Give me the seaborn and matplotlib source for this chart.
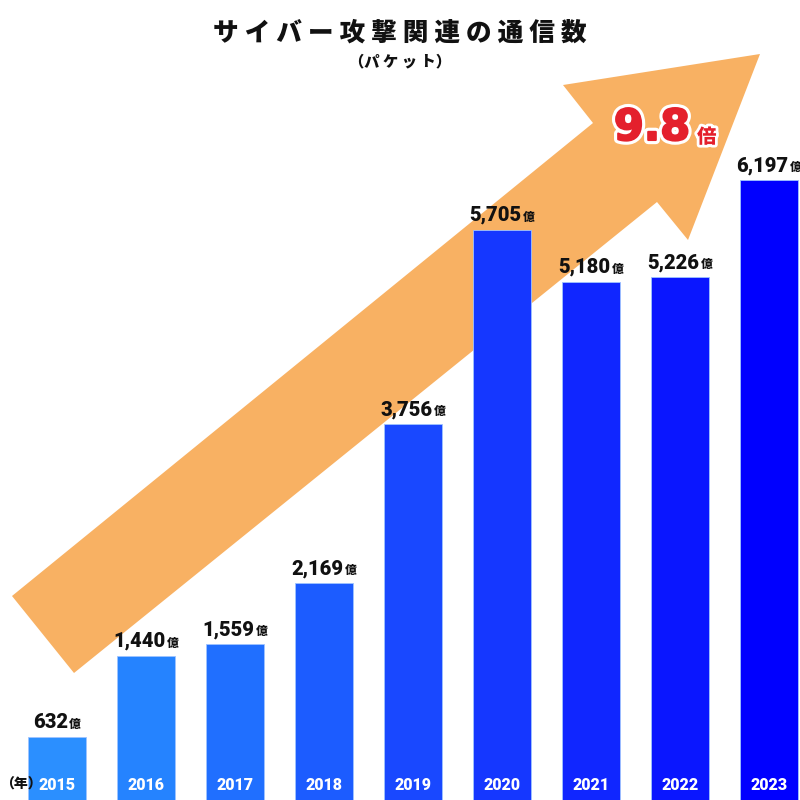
import matplotlib
matplotlib.use('Agg')
import matplotlib.pyplot as plt
import matplotlib.patheffects as pe
from matplotlib import transforms
from matplotlib.patches import Polygon
import seaborn as sns
import pandas as pd

# ---- data ----
years = ['2015', '2016', '2017', '2018', '2019', '2020', '2021', '2022', '2023']
values = [632, 1440, 1559, 2169, 3756, 5705, 5180, 5226, 6197]
unit = '億'
title = 'サイバー攻撃関連の通信数'
subtitle = '（パケット）'
ratio_value = '9.8'
ratio_unit = '倍'
year_unit = '（年）'

# ---- styles ----
bar_colors = ['#2b8fff', '#2583ff', '#206fff', '#1c5cff', '#1948ff',
              '#1537ff', '#1026ff', '#0a16ff', '#0000ff']
arrow_color = '#f8b163'
red = '#e4202c'

sns.set_theme(style='white')
plt.rcParams['font.family'] = ['Roboto', 'Noto Sans CJK JP', 'DejaVu Sans']
cjk = ['Noto Sans CJK JP', 'DejaVu Sans']

df = pd.DataFrame({'year': years, 'value': values})

fig = plt.figure(figsize=(8, 8), dpi=100)
ax = fig.add_axes([0, 0, 1, 1])
sns.barplot(data=df, x='year', y='value', hue='year', palette=bar_colors,
            width=0.652, legend=False, ax=ax, saturation=1, zorder=2,
            edgecolor='#9fc4ff', linewidth=0.6)
ax.set_xlim(-0.64, 8.348)
ax.set_ylim(0, 8000)
ax.axis('off')

# decorative arrow (axes fraction coordinates)
arrow_px = [(12, 596), (593, 123), (563, 85), (760, 54), (688, 240), (657, 202), (74, 673)]
arrow_pts = [(x / 800, 1 - y / 800) for x, y in arrow_px]
ax.add_patch(Polygon(arrow_pts, closed=True, transform=ax.transAxes,
                     facecolor=arrow_color, edgecolor='none', zorder=0))

# value labels
fig.canvas.draw()
r = fig.canvas.get_renderer()
for i, v in enumerate(values):
    t1 = ax.text(i, v, f'{v:,}', fontsize=14.5, fontweight='black', color='#111111',
                 ha='left', va='baseline', zorder=5)
    t2 = ax.text(i, v, unit, fontsize=8.5, fontweight='heavy', family=cjk, color='#111111',
                 ha='left', va='baseline', zorder=5)
    w1 = t1.get_window_extent(r).width
    w2 = t2.get_window_extent(r).width
    gap = 1
    total = w1 + gap + w2
    t1.set_transform(transforms.offset_copy(ax.transData, fig=fig, x=-total / 2, y=9, units='dots'))
    t2.set_transform(transforms.offset_copy(ax.transData, fig=fig, x=-total / 2 + w1 + gap, y=9, units='dots'))

# year labels inside bars
blend = transforms.blended_transform_factory(ax.transData, ax.transAxes)
for i, y in enumerate(years):
    ax.text(i, 15 / 800, y, transform=blend, color='white', fontsize=11.5,
            fontweight='black', ha='center', va='center', zorder=5)
ax.text(0, 15 / 800, year_unit, transform=ax.transAxes, ha='left', va='center',
        fontsize=10, fontweight='heavy', family=cjk, color='#111111')

# title
fig.text(0.5, 1 - 33 / 800, ' '.join(title), ha='center', va='center', fontsize=18.5,
         fontweight='heavy', family=cjk, color='#111111')
fig.text(0.5, 1 - 62 / 800, subtitle[0] + ' '.join(subtitle[1:-1]) + subtitle[-1],
         ha='center', va='center', fontsize=11, fontweight='heavy', family=cjk, color='#111111')

# ratio text
stroke_num = [pe.Stroke(linewidth=6, foreground='white'),
              pe.Stroke(linewidth=1.5, foreground=red), pe.Normal()]
stroke_unit = [pe.Stroke(linewidth=4, foreground='white'), pe.Normal()]
fig.text(690 / 800, 1 - 140 / 800, ratio_value, ha='right', va='baseline', fontsize=31,
         fontweight='bold', family=['DejaVu Sans'], color=red, path_effects=stroke_num)
fig.text(697 / 800, 1 - 143 / 800, ratio_unit, ha='left', va='baseline', fontsize=14,
         fontweight='heavy', family=cjk, color=red, path_effects=stroke_unit)

fig.savefig('out.png', dpi=100)
